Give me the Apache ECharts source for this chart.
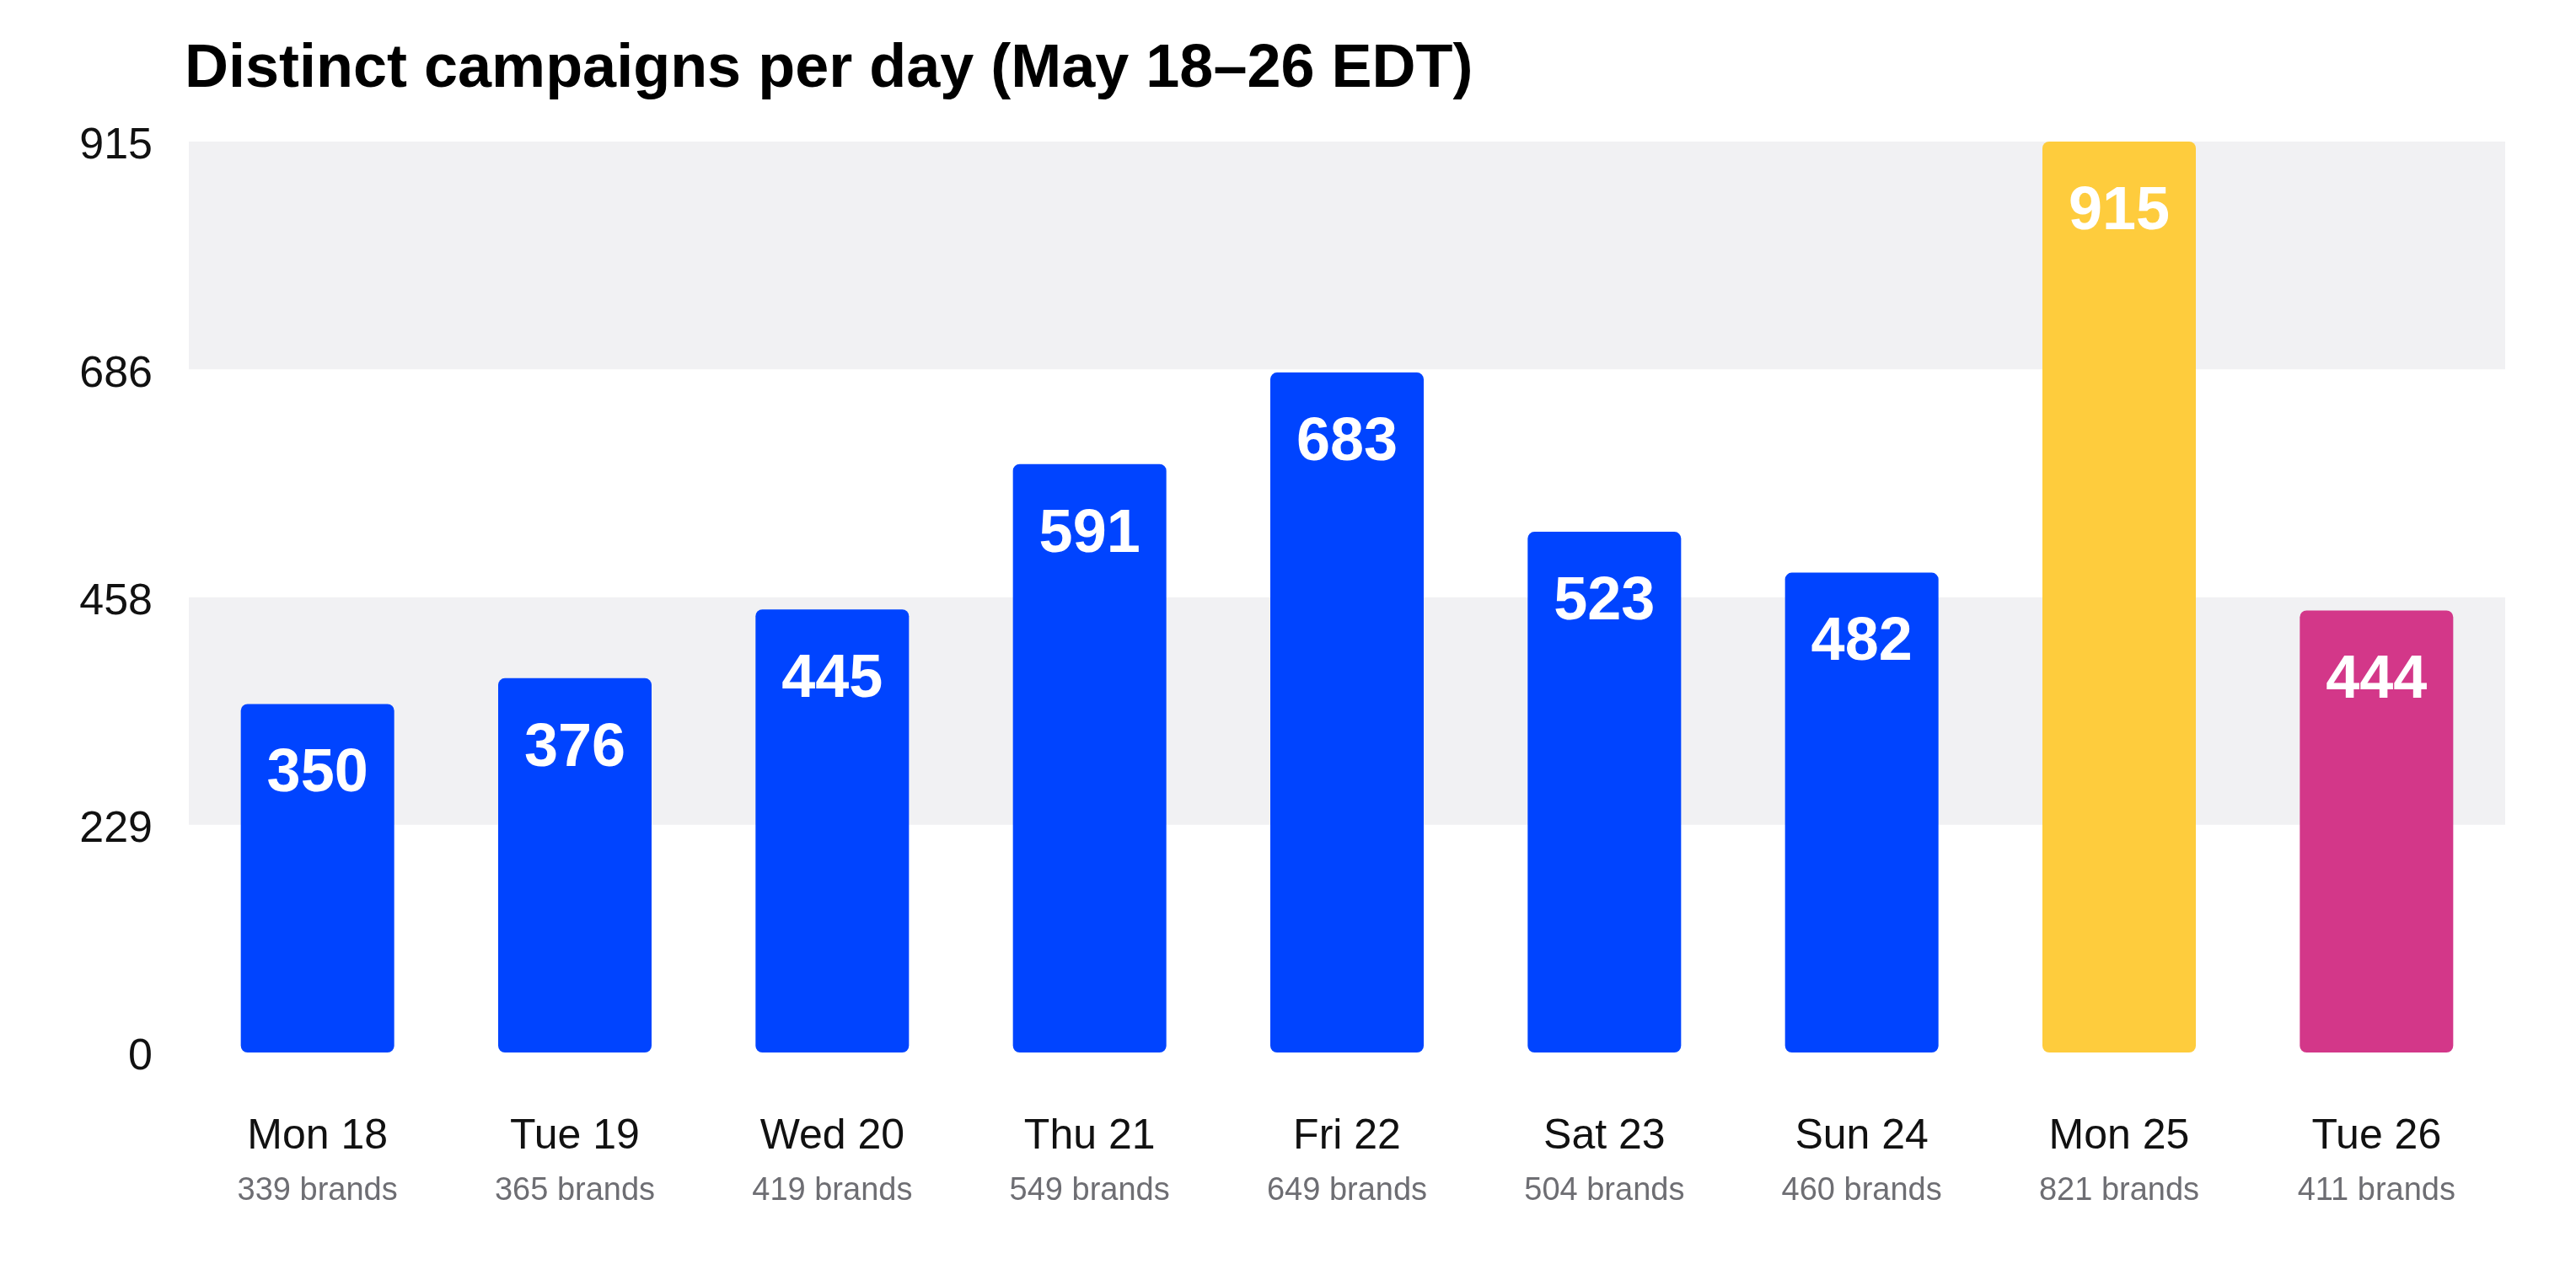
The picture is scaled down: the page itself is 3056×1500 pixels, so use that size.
<!DOCTYPE html>
<html>
<head>
<meta charset="utf-8">
<style>
    html, body { margin: 0; padding: 0; background: #fff; }
    #chart-wrapper { width: 3056px; height: 1500px; }
</style>
<script src="https://cdn.jsdelivr.net/npm/echarts@6/dist/echarts.min.js"></script>
</head>
<body>
<div id="chart-wrapper"></div>
<script>
'use strict';

// 数据
var days = ['Mon 18', 'Tue 19', 'Wed 20', 'Thu 21', 'Fri 22', 'Sat 23', 'Sun 24', 'Mon 25', 'Tue 26'];
var campaigns = [350, 376, 445, 591, 683, 523, 482, 915, 444];
var brands = [339, 365, 419, 549, 649, 504, 460, 821, 411];
var yMax = 915;

var FONT = '"Liberation Sans", Helvetica, Arial, sans-serif';
var BLUE = '#0044ff';

// 每根柱子的颜色: 25 号黄色, 26 号洋红
function barColor(idx) {
    if (idx === 7) return '#fecc3d';
    if (idx === 8) return '#d33789';
    return BLUE;
}

var campaignChart = echarts.init(document.getElementById('chart-wrapper'));

var option = {
    backgroundColor: '#fff',
    animation: false,
    textStyle: { fontFamily: FONT },
    title: {
        text: 'Distinct campaigns per day (May 18\u201326 EDT)',
        left: 214,
        top: 42,
        textStyle: {
            fontFamily: FONT,
            fontSize: 72,
            fontWeight: 'bold',
            color: '#000'
        }
    },
    grid: {
        left: 224,
        right: 84,
        top: 168,
        bottom: 251
    },
    xAxis: {
        type: 'category',
        data: days,
        axisLine: { show: false },
        axisTick: { show: false },
        axisLabel: {
            margin: 68,
            interval: 0,
            formatter: function (val, idx) {
                return '{a|' + val + '}\n{b|' + brands[idx] + ' brands}';
            },
            rich: {
                a: { fontFamily: FONT, fontSize: 50, color: '#111', lineHeight: 64 },
                b: { fontFamily: FONT, fontSize: 38, color: '#6e6e73', lineHeight: 66 }
            }
        }
    },
    yAxis: {
        type: 'value',
        min: 0,
        max: yMax,
        interval: yMax / 4,
        axisLine: { show: false },
        axisTick: { show: false },
        splitLine: { show: false },
        splitArea: {
            show: true,
            areaStyle: { color: ['#ffffff', '#f1f1f3'] }
        },
        axisLabel: {
            margin: 43,
            formatter: function (v) {
                return '{v|' + Math.round(v) + '}';
            },
            rich: {
                // 标签稍微往下一点
                v: { fontFamily: FONT, fontSize: 52, color: '#111', padding: [12, 0, 0, 0] }
            }
        }
    },
    series: [{
        name: 'Campaigns',
        type: 'bar',
        barWidth: 182,
        data: campaigns.map(function (v, i) {
            return {
                value: v,
                itemStyle: { color: barColor(i) }
            };
        }),
        itemStyle: { borderRadius: 8 },
        label: {
            show: true,
            position: 'insideTop',
            distance: 48,
            fontFamily: FONT,
            fontSize: 72,
            fontWeight: 'bold',
            color: '#fff'
        }
    }]
};

campaignChart.setOption(option);
</script>
</body>
</html>
